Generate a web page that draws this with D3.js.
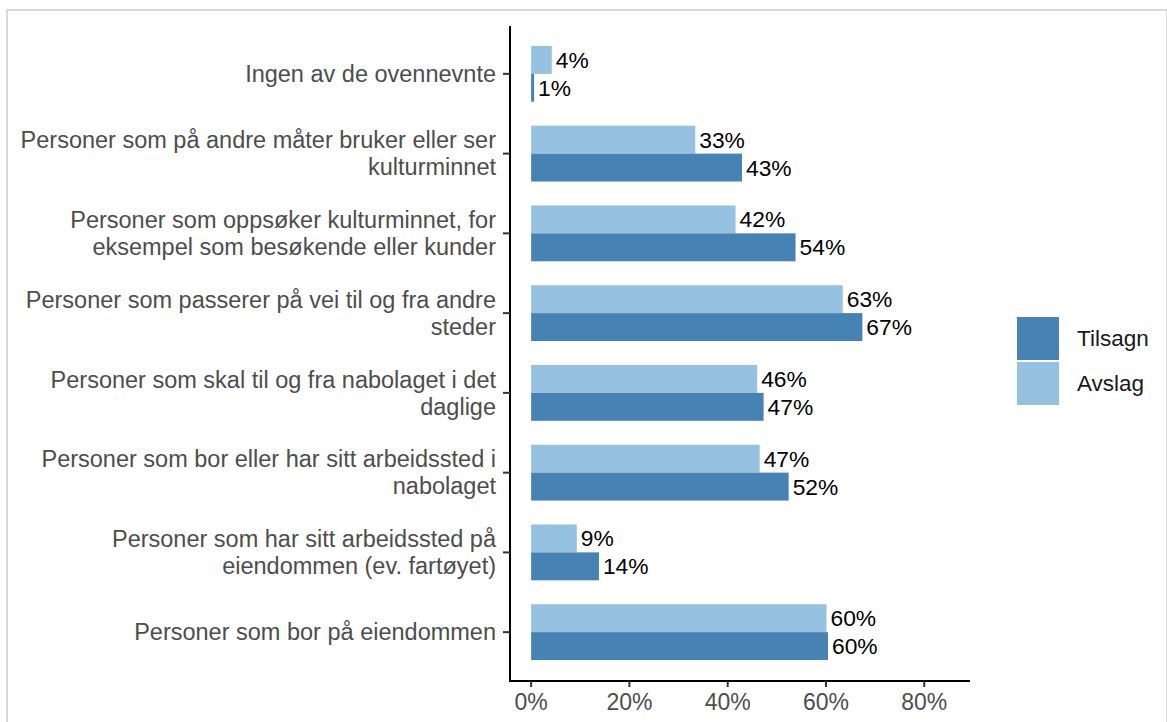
<!DOCTYPE html>
<html>
<head>
<meta charset="utf-8">
<style>
  body { margin: 0; background: #fff; }
  svg text { font-family: "Liberation Sans", Arial, sans-serif; }
</style>
</head>
<body>
<div id="chart"></div>
<script src="https://d3js.org/d3.v7.min.js"></script>
<script>
// categories top to bottom, lines split as in the figure
const categories = [
  'Ingen av de ovennevnte',
  'Personer som på andre måter bruker eller ser\nkulturminnet',
  'Personer som oppsøker kulturminnet, for\neksempel som besøkende eller kunder',
  'Personer som passerer på vei til og fra andre\nsteder',
  'Personer som skal til og fra nabolaget i det\ndaglige',
  'Personer som bor eller har sitt arbeidssted i\nnabolaget',
  'Personer som har sitt arbeidssted på\neiendommen (ev. fartøyet)',
  'Personer som bor på eiendommen'
];
const avslag  = [4.2, 33.4, 41.6, 63.4, 46.0, 46.5, 9.3, 60.1];
const tilsagn = [0.6, 42.9, 53.8, 67.4, 47.3, 52.4, 13.8, 60.4];
const series = ['Tilsagn', 'Avslag'];
const colors = { Tilsagn: '#4682b4', Avslag: '#97c1e1' };
const xTicks = [0, 20, 40, 60, 80];

const W = 1167, H = 722;
const svg = d3.select('#chart').append('svg')
  .attr('width', W).attr('height', H);

// outer frame
svg.append('rect')
  .attr('x', 7).attr('y', 10).attr('width', 1160).attr('height', 730)
  .attr('fill', 'none').attr('stroke', '#d9d9d9').attr('stroke-width', 2);

const x = d3.scaleLinear().domain([-4.3, 89.3]).range([510, 970]);
const y = d3.scalePoint().domain(categories).range([26, 680]).padding(0.6);
const band = y.step() * 0.7;
const sub = d3.scaleBand().domain(['Avslag', 'Tilsagn']).range([-band / 2, band / 2]);

const rows = categories.map((c, i) => ({ cat: c, Avslag: avslag[i], Tilsagn: tilsagn[i] }));

const g = svg.append('g');
rows.forEach(r => {
  ['Avslag', 'Tilsagn'].forEach(s => {
    const y0 = y(r.cat) + sub(s);
    g.append('rect')
      .attr('x', x(0)).attr('y', y0)
      .attr('width', x(r[s]) - x(0)).attr('height', sub.bandwidth())
      .attr('fill', colors[s]);
    g.append('text')
      .attr('x', x(r[s]) + 4).attr('y', y0 + sub.bandwidth() / 2)
      .attr('dy', '0.35em')
      .attr('font-size', 22.8).attr('fill', '#000')
      .text(Math.round(r[s]) + '%');
  });
});

// y axis
svg.append('line')
  .attr('x1', 510).attr('x2', 510).attr('y1', 26).attr('y2', 681)
  .attr('stroke', '#000').attr('stroke-width', 2);
categories.forEach(c => {
  const yy = y(c);
  svg.append('line')
    .attr('x1', 503).attr('x2', 510).attr('y1', yy).attr('y2', yy)
    .attr('stroke', '#333').attr('stroke-width', 2);
  const lines = c.split('\n');
  const lh = 27;
  const t = svg.append('text')
    .attr('text-anchor', 'end').attr('font-size', 23.5).attr('fill', '#4d4d4d');
  lines.forEach((ln, k) => {
    t.append('tspan')
      .attr('x', 496)
      .attr('y', yy + (k - (lines.length - 1) / 2) * lh)
      .attr('dy', '0.35em')
      .text(ln);
  });
});

// x axis
svg.append('line')
  .attr('x1', 509).attr('x2', 970).attr('y1', 681).attr('y2', 681)
  .attr('stroke', '#000').attr('stroke-width', 2);
xTicks.forEach(v => {
  svg.append('line')
    .attr('x1', x(v)).attr('x2', x(v)).attr('y1', 681).attr('y2', 687)
    .attr('stroke', '#333').attr('stroke-width', 2);
  svg.append('text')
    .attr('x', x(v)).attr('y', 710)
    .attr('text-anchor', 'middle').attr('font-size', 23).attr('fill', '#4d4d4d')
    .text(v + '%');
});

// legend
const leg = svg.append('g');
series.forEach((s, i) => {
  const ly = 317 + i * 45;
  leg.append('rect')
    .attr('x', 1017).attr('y', ly).attr('width', 42).attr('height', 43)
    .attr('fill', colors[s]);
  leg.append('text')
    .attr('x', 1077).attr('y', ly + 21.5).attr('dy', '0.35em')
    .attr('font-size', 22.5).attr('fill', '#1a1a1a')
    .text(s);
});
</script>
</body>
</html>
